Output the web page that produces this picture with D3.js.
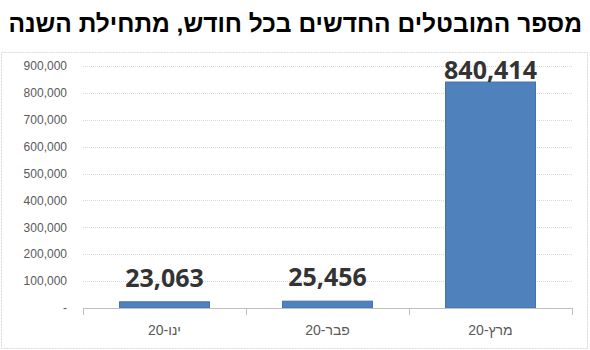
<!DOCTYPE html>
<html><head><meta charset="utf-8">
<script src="https://cdn.jsdelivr.net/npm/d3@7"></script>
<style>html,body{margin:0;padding:0;background:#fff;}svg{display:block;}</style>
</head><body>
<svg id="chart" width="590" height="350"></svg>
<script>
const titleText = "מספר המובטלים החדשים בכל חודש, מתחילת השנה";
const categories = ["ינו-20", "פבר-20", "מרץ-20"];
const values = [23063, 25456, 840414];
const yTicks = [0, 100000, 200000, 300000, 400000, 500000, 600000, 700000, 800000, 900000];

const svg = d3.select("#chart");
const W = 590, H = 350;
const plot = {left: 83, right: 572, top: 66, bottom: 308};

svg.append("rect").attr("width", W).attr("height", H).attr("fill", "#fff");
// outer chart border
svg.append("rect").attr("x", 1.5).attr("y", 52.5).attr("width", 586).attr("height", 296)
  .attr("fill", "none").attr("stroke", "#d9d9d9").attr("stroke-dasharray", "2,1");

const title = svg.append("text").attr("x", 582).attr("y", 32)
  .attr("direction", "rtl").attr("text-anchor", "start")
  .attr("font-family", "'Liberation Sans', Arial, sans-serif").attr("font-weight", "bold")
  .attr("font-size", 26).attr("fill", "#000").text(titleText);
// fit title to the reference width
const tw = title.node().getComputedTextLength();
if (tw > 0) title.attr("font-size", Math.min(26, 26 * 574 / tw));

const x = d3.scaleBand().domain(categories).range([plot.left, plot.right])
  .paddingInner(0.448).paddingOuter(0.224);
const xb = d3.scaleBand().domain(categories).range([plot.left, plot.right]);
const y = d3.scaleLinear().domain([0, 900000]).range([plot.bottom, plot.top]);

// gridlines
svg.append("g").selectAll("line").data(yTicks.filter(d => d > 0)).join("line")
  .attr("x1", plot.left).attr("x2", plot.right)
  .attr("y1", d => Math.round(y(d)) + 0.5).attr("y2", d => Math.round(y(d)) + 0.5)
  .attr("stroke", "#d9d9d9").attr("stroke-dasharray", "1,1");

// y labels
const fmt = d3.format(",");
svg.append("g").selectAll("text").data(yTicks).join("text")
  .attr("x", 67).attr("y", d => y(d)).attr("dy", "0.35em")
  .attr("text-anchor", "end").attr("font-family", "'Liberation Sans', Arial, sans-serif")
  .attr("font-size", 12).attr("fill", "#595959")
  .text(d => d === 0 ? "-" : fmt(d));

// bars
svg.append("g").selectAll("rect").data(values).join("rect")
  .attr("x", (d, i) => x(categories[i]))
  .attr("width", x.bandwidth())
  .attr("y", d => y(d))
  .attr("height", d => y(0) - y(d))
  .attr("fill", "#4f81bd").attr("stroke", "#4372b0").attr("stroke-width", 1);

// x axis
const xAxis = svg.append("g");
xAxis.append("line").attr("x1", plot.left).attr("x2", plot.right)
  .attr("y1", plot.bottom + 0.5).attr("y2", plot.bottom + 0.5).attr("stroke", "#bfbfbf");
const bounds = categories.map(c => xb(c)).concat([plot.right]);
xAxis.selectAll("line.tick").data(bounds).join("line").attr("class", "tick")
  .attr("x1", d => Math.round(d) + 0.5).attr("x2", d => Math.round(d) + 0.5)
  .attr("y1", plot.bottom).attr("y2", plot.bottom + 7).attr("stroke", "#bfbfbf");
xAxis.selectAll("text").data(categories).join("text")
  .attr("x", d => xb(d) + xb.bandwidth() / 2).attr("y", 335)
  .attr("text-anchor", "middle").attr("direction", "rtl")
  .attr("font-family", "'Liberation Sans', Arial, sans-serif")
  .attr("font-size", 14).attr("fill", "#595959").text(d => d);

// value labels
svg.append("g").selectAll("text").data(values).join("text")
  .attr("x", (d, i) => x(categories[i]) + x.bandwidth() / 2)
  .attr("y", d => Math.max(y(d) - 15, 79))
  .attr("text-anchor", "middle")
  .attr("font-family", "'Open Sans', sans-serif").attr("font-weight", "bold")
  .attr("font-size", 25).attr("fill", "#333")
  .text(d => fmt(d));
</script>
</body></html>
